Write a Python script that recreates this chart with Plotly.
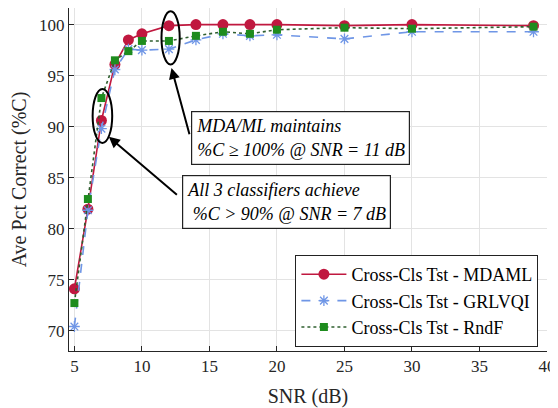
import plotly.graph_objects as go

snr = [5, 6, 7, 8, 9, 10, 12, 14, 16, 18, 20, 25, 30, 39]
mdaml = [74.1, 81.9, 90.6, 96.1, 98.5, 99.1, 99.9, 100.0, 100.0, 100.0, 100.0, 99.9, 100.0, 99.9]
grlvqi = [70.4, 81.8, 89.8, 95.6, 97.6, 97.5, 97.6, 98.5, 99.1, 98.9, 99.0, 98.6, 99.3, 99.3]
rndf = [72.7, 82.9, 92.8, 96.5, 97.4, 98.4, 98.4, 98.9, 99.3, 99.1, 99.5, 99.7, 99.6, 99.8]

names = ["Cross-Cls Tst - MDAML", "Cross-Cls Tst - GRLVQI", "Cross-Cls Tst - RndF"]
x_ticks = [5, 10, 15, 20, 25, 30, 35, 40]
y_ticks = [70, 75, 80, 85, 90, 95, 100]

FONT = "Times New Roman, Liberation Serif, Times, serif"
RED = "#C0183F"
BLUE = "#6F96E6"
GREEN = "#1E8C1E"

fig = go.Figure()
fig.add_trace(go.Scatter(x=snr, y=mdaml, name=names[0], mode="lines+markers",
                         line=dict(color=RED, width=1.6),
                         marker=dict(symbol="circle", size=11, color=RED)))
fig.add_trace(go.Scatter(x=snr, y=grlvqi, name=names[1], mode="lines+markers",
                         line=dict(color=BLUE, width=1.6, dash="dash"),
                         marker=dict(symbol="asterisk-open", size=9, color=BLUE,
                                     line=dict(color=BLUE, width=1.3))))
fig.add_trace(go.Scatter(x=snr, y=rndf, name=names[2], mode="lines+markers",
                         line=dict(color="#2f5f2f", width=1.6, dash="dot"),
                         marker=dict(symbol="square", size=8, color=GREEN)))

# ellipses
fig.add_shape(type="circle", xref="x", yref="y", x0=6.35, x1=7.8, y0=88.4, y1=93.7,
              line=dict(color="black", width=2))
fig.add_shape(type="circle", xref="x", yref="y", x0=11.45, x1=12.8, y0=96.1, y1=101.3,
              line=dict(color="black", width=2))

# arrows
fig.add_annotation(x=7.55, y=89.0, ax=12.7, ay=83.2, axref="x", ayref="y",
                   xref="x", yref="y", text="", showarrow=True,
                   arrowhead=2, arrowsize=1.1, arrowwidth=2, arrowcolor="black")
fig.add_annotation(x=12.19, y=95.75, ax=13.55, ay=89.1, axref="x", ayref="y",
                   xref="x", yref="y", text="", showarrow=True,
                   arrowhead=2, arrowsize=1.1, arrowwidth=2, arrowcolor="black")

# text boxes
fig.add_annotation(x=13.65, y=91.5, xref="x", yref="y", xanchor="left", yanchor="top",
                   text="<i>MDA/ML maintains<br>%C \u2265 100% @ SNR = 11 dB</i>",
                   showarrow=False, align="left", bgcolor="white",
                   bordercolor="#222", borderwidth=1.2, borderpad=4,
                   font=dict(family=FONT, size=18, color="black"))
fig.add_annotation(x=12.95, y=85.3, xref="x", yref="y", xanchor="left", yanchor="top",
                   text="<i>All 3 classifiers achieve<br>\u00a0%C > 90% @ SNR = 7 dB</i>",
                   showarrow=False, align="left", bgcolor="white",
                   bordercolor="#222", borderwidth=1.2, borderpad=4,
                   font=dict(family=FONT, size=18, color="black"))

# page body has an 8px margin, so the figure is 550x400
fig.update_layout(
    width=550, height=400,
    margin=dict(l=61, r=11, t=0, b=57),
    paper_bgcolor="white", plot_bgcolor="white",
    font=dict(family=FONT, size=17, color="#262626"),
    showlegend=True,
    legend=dict(x=0.982, y=0.0117, xanchor="right", yanchor="bottom",
                bgcolor="white", bordercolor="#222", borderwidth=1,
                font=dict(family=FONT, size=18, color="black"),
                itemwidth=45, tracegroupgap=0),
    xaxis=dict(range=[4.6, 40], tickvals=x_ticks, ticktext=[str(v) for v in x_ticks],
               showgrid=True, gridcolor="#e3e3e3", gridwidth=1, automargin=False,
               showline=True, linecolor="#262626", linewidth=1, mirror=False,
               ticks="inside", ticklen=5, tickcolor="#262626", zeroline=False,
               tickfont=dict(family=FONT, size=17, color="#262626"),
               title=dict(text="SNR (dB)", font=dict(family=FONT, size=20, color="#262626"))),
    yaxis=dict(range=[68, 101.63], tickvals=y_ticks, ticktext=[str(v) for v in y_ticks],
               showgrid=True, gridcolor="#e3e3e3", gridwidth=1, automargin=False,
               showline=True, linecolor="#262626", linewidth=1, mirror=False,
               ticks="inside", ticklen=5, tickcolor="#262626", zeroline=False,
               tickfont=dict(family=FONT, size=17, color="#262626"),
               title=dict(text="Ave Pct Correct (%C)", font=dict(family=FONT, size=20, color="#262626"))),
)

fig.write_html("out.html")
